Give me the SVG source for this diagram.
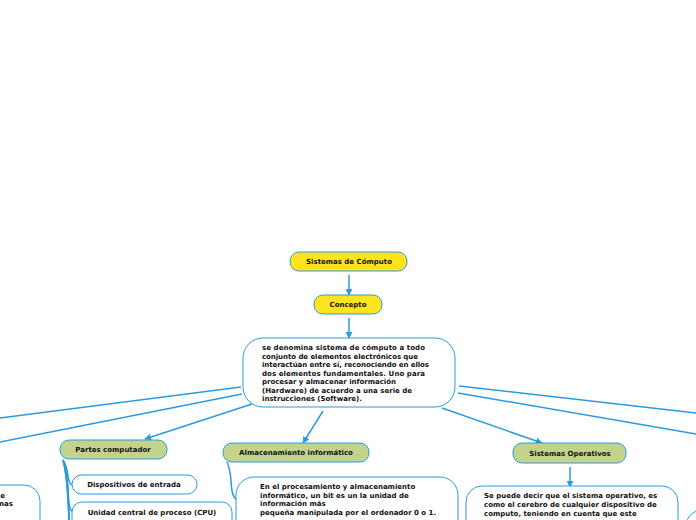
<svg xmlns="http://www.w3.org/2000/svg" width="696" height="520" viewBox="0 0 696 520">
<defs>
<marker id="ah" viewBox="0 0 10 10" refX="9" refY="5" markerWidth="7" markerHeight="7" orient="auto" markerUnits="userSpaceOnUse">
<path d="M0,0 L10,5 L0,10 z" fill="#2a9be0"/>
</marker>
<style>
.ln{fill:none;stroke:#2a9be0;stroke-width:1.5}
.arr{fill:none;stroke:#2a9be0;stroke-width:1.5;marker-end:url(#ah)}
.y{fill:#ffe41c;stroke:#2a9be0;stroke-width:1}
.g{fill:#c4d38c;stroke:#2a9be0;stroke-width:1}
.w{fill:#fff;stroke:#2a9be0;stroke-width:1}
text{font-family:"DejaVu Sans",Verdana,sans-serif;font-weight:bold;font-size:7px;fill:#111}
.c{text-anchor:middle}
</style>
</defs>
<rect width="696" height="520" fill="#fff"/>
<g id="connectors">
<path class="arr" d="M349,275 L349,295"/>
<path class="arr" d="M349,318 L349,338"/>
<path class="ln" d="M241,387 L0,418"/>
<path class="ln" d="M242,394 L0,442"/>
<path class="arr" d="M252,404 L145,439"/>
<path class="arr" d="M323,411 L303,443"/>
<path class="arr" d="M442,408 L542,443"/>
<path class="ln" d="M459,386 L696,413"/>
<path class="ln" d="M458,393 L696,434"/>
<path class="arr" d="M570,467 L570,487"/>
<path class="ln" d="M227,462 C234,476 228,494 237,500"/>
<path class="ln" d="M63,460 C70,470 66,484 73,485"/>
<path class="ln" d="M63,460 C71,478 65,508 73,512"/>
<path class="ln" d="M63,460 C72,485 66,530 73,545"/>
<path class="ln" d="M63,460 C72,490 67,560 73,580"/>
<path class="ln" d="M63,460 C72,495 68,590 73,615"/>
</g>
<g id="n-sistemas">
<rect class="y" x="290" y="252" width="117" height="19" rx="9"/>
<text class="c" x="349" y="264">Sistemas de Cómputo</text>
</g>
<g id="n-concepto">
<rect class="y" x="314" y="295" width="68" height="19" rx="9"/>
<text class="c" x="348" y="307">Concepto</text>
</g>
<g id="n-def">
<rect class="w" x="243" y="338" width="212" height="69" rx="20"/>
<text x="262" y="350" textLength="163" lengthAdjust="spacing">se denomina sistema de cómputo a todo</text>
<text x="262" y="358.5" textLength="156" lengthAdjust="spacing">conjunto de elementos electrónicos que</text>
<text x="262" y="367" textLength="167" lengthAdjust="spacing">interactúan entre sí, reconociendo en ellos</text>
<text x="262" y="375.5" textLength="163" lengthAdjust="spacing">dos elementos fundamentales. Uno para</text>
<text x="262" y="384" textLength="134" lengthAdjust="spacing">procesar y almacenar información</text>
<text x="262" y="392.5" textLength="150" lengthAdjust="spacing">(Hardware) de acuerdo a una serie de</text>
<text x="262" y="401" textLength="100" lengthAdjust="spacing">instrucciones (Software).</text>
</g>
<g id="n-partes">
<rect class="g" x="60" y="440" width="107" height="19" rx="9"/>
<text class="c" x="113" y="452">Partes computador</text>
</g>
<g id="n-entrada">
<rect class="w" x="72" y="475" width="125" height="19" rx="9.5"/>
<text class="c" x="134" y="487">Dispositivos de entrada</text>
</g>
<g id="n-cpu">
<rect class="w" x="72" y="502" width="160" height="30" rx="10"/>
<text class="c" x="152" y="515">Unidad central de proceso (CPU)</text>
</g>
<g id="n-alm">
<rect class="g" x="223" y="443" width="146" height="19" rx="9"/>
<text class="c" x="296" y="455">Almacenamiento informático</text>
</g>
<g id="n-alm-def">
<rect class="w" x="236" y="477" width="222" height="60" rx="18"/>
<text x="260" y="489">En el procesamiento y almacenamiento</text>
<text x="260" y="498">informático, un bit es un la unidad de</text>
<text x="260" y="506">información más</text>
<text x="260" y="514.5">pequeña manipulada por el ordenador 0 o 1.</text>
</g>
<g id="n-so">
<rect class="g" x="513" y="443" width="113" height="20" rx="9"/>
<text class="c" x="570" y="456">Sistemas Operativos</text>
</g>
<g id="n-so-def">
<rect class="w" x="466" y="486" width="212" height="60" rx="16"/>
<text x="484" y="498">Se puede decir que el sistema operativo, es</text>
<text x="484" y="507">como el cerebro de cualquier dispositivo de</text>
<text x="484" y="515.5">computo, teniendo en cuenta que este</text>
</g>
<g id="n-left">
<rect class="w" x="-180" y="485" width="220" height="60" rx="16"/>
<text x="5" y="497.5" text-anchor="end">e</text>
<text x="13" y="506" text-anchor="end">mas</text>
</g>
<g id="n-right">
<rect class="w" x="686" y="510" width="200" height="60" rx="16"/>
</g>
</svg>
